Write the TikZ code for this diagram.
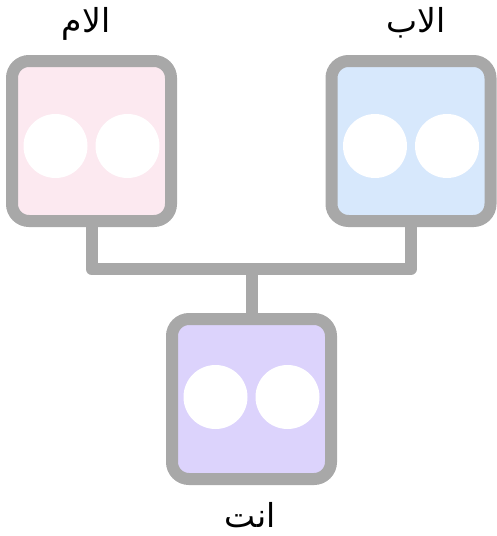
\documentclass[tikz,border=0pt]{standalone}
\usepackage{fontspec}
\newfontfamily\arabicfont[Script=Arabic]{DejaVu Sans}
\TeXXeTstate=1
\usetikzlibrary{positioning}

\definecolor{linegray}{HTML}{A8A8A8}
\definecolor{mompink}{HTML}{FCE9F0}
\definecolor{dadblue}{HTML}{D7E8FC}
\definecolor{youpurple}{HTML}{DCD3FC}

\tikzset{
  person/.style={draw=linegray, line width=12pt, rounded corners=17pt,
    minimum width=159pt, minimum height=160pt, inner sep=0pt},
  eye/.style={circle, fill=white, minimum size=64pt, inner sep=0pt},
  link/.style={draw=linegray, line width=12pt, line join=round},
  lbl/.style={font=\arabicfont\fontsize{33}{38}\selectfont, inner sep=0pt, anchor=base},
}

\begin{document}
\begin{tikzpicture}[x=1pt,y=-1pt]
  \useasboundingbox (0,0) rectangle (497,536);
  \node[person, fill=mompink] (mom) at (91.5,141) {};
  \node[person, fill=dadblue] (dad) at (411,141) {};
  \node[person, fill=youpurple] (you) at (251.5,399) {};
  % eyes
  \foreach \p/\dy in {mom/5, dad/5, you/-2} {
    \node[eye] (\p-l) at ([shift={(-36,\dy)}]\p.center) {};
    \node[eye] (\p-r) at ([shift={(36,\dy)}]\p.center) {};
  }
  % family line
  \coordinate (join) at (251.5,269);
  \draw[link] (mom.south) |- (join) -| (dad.south);
  \draw[link] (join) -- (you.north);
  % names
  \node[lbl] (momname) at (86,32) {\beginR الام\endR};
  \node[lbl] (dadname) at (416,32) {\beginR الاب\endR};
  \node[lbl] (youname) at (250,527) {\beginR انت\endR};
\end{tikzpicture}
\end{document}
